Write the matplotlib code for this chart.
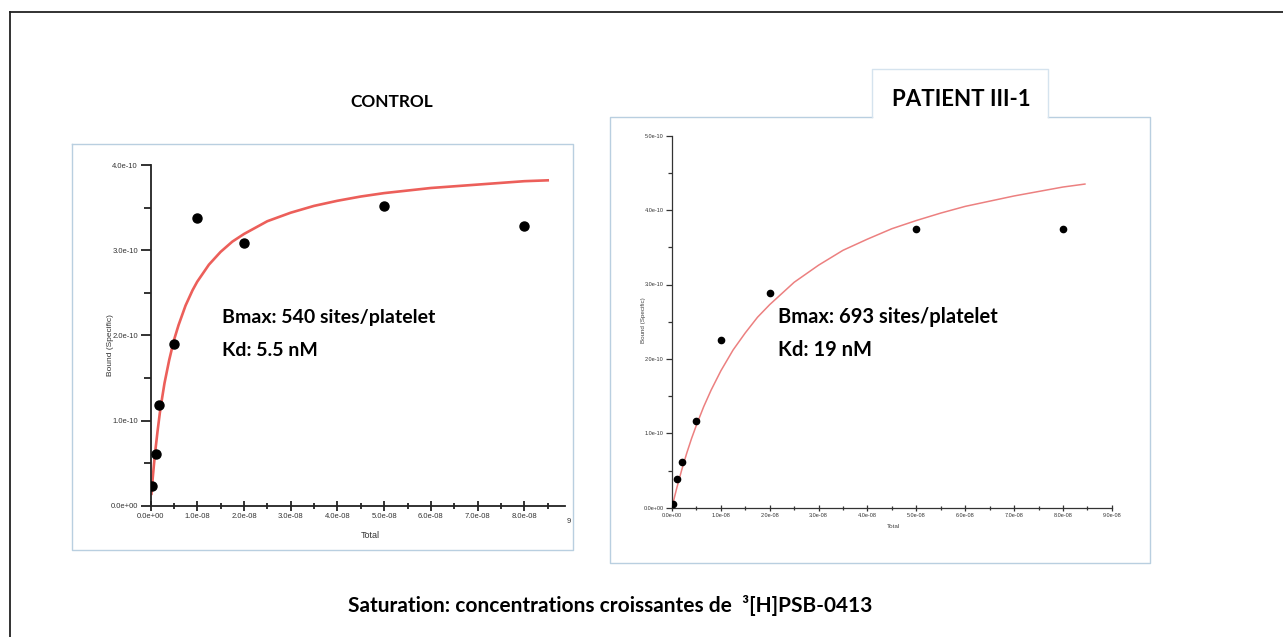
import matplotlib.pyplot as plt
import matplotlib.ticker as mticker
from matplotlib.lines import Line2D

W, H = 1283, 637

# CONTROL panel: Total in units of 1e-08, Bound in units of 1e-10
ctrl_total = [0.03, 0.12, 0.19, 0.5, 1.0, 2.0, 5.0, 8.0]
ctrl_bound = [0.23, 0.61, 1.18, 1.90, 3.38, 3.09, 3.52, 3.28]
# fitted curve
ctrl_fit_x = [0.02, 0.03, 0.05, 0.075, 0.1, 0.15, 0.2, 0.25, 0.3, 0.4, 0.5, 0.6, 0.75, 0.9,
              1.0, 1.25, 1.5, 1.75, 2.0, 2.5, 3.0, 3.5, 4.0, 4.5, 5.0, 6.0, 7.0, 8.0, 8.5]
ctrl_fit_y = [0.14, 0.21, 0.34, 0.49, 0.63, 0.87, 1.09, 1.27, 1.44, 1.71, 1.94, 2.12, 2.35, 2.53,
              2.63, 2.83, 2.98, 3.10, 3.19, 3.34, 3.44, 3.52, 3.58, 3.63, 3.67, 3.73, 3.77, 3.81, 3.82]

# PATIENT III-1 panel
pat_total = [0.03, 0.10, 0.20, 0.49, 1.0, 2.0, 5.0, 8.0]
pat_bound = [0.05, 0.38, 0.61, 1.17, 2.25, 2.88, 3.74, 3.74]
pat_fit_x = [0.0, 0.05, 0.1, 0.2, 0.3, 0.4, 0.5, 0.65, 0.8, 1.0, 1.25, 1.5, 1.75, 2.0, 2.5,
             3.0, 3.5, 4.0, 4.5, 5.0, 5.5, 6.0, 6.5, 7.0, 7.5, 8.0, 8.45]
pat_fit_y = [0.0, 0.14, 0.27, 0.51, 0.73, 0.93, 1.11, 1.36, 1.58, 1.84, 2.12, 2.35, 2.56, 2.73, 3.03,
             3.26, 3.46, 3.61, 3.75, 3.86, 3.96, 4.05, 4.12, 4.19, 4.25, 4.31, 4.35]

ctrl_xticklabels = ['0.0e+00', '1.0e-08', '2.0e-08', '3.0e-08', '4.0e-08',
                    '5.0e-08', '6.0e-08', '7.0e-08', '8.0e-08']
ctrl_yticklabels = ['0.0e+00', '1.0e-10', '2.0e-10', '3.0e-10', '4.0e-10']
pat_xticklabels = ['0.0e+00', '1.0e-08', '2.0e-08', '3.0e-08', '4.0e-08',
                   '5.0e-08', '6.0e-08', '7.0e-08', '8.0e-08', '9.0e-08']
pat_yticklabels = ['0.0e+00', '1.0e-10', '2.0e-10', '3.0e-10', '4.0e-10', '5.0e-10']

plt.rcParams['font.family'] = ['Lato', 'DejaVu Sans']


def fx(x):
    return x / W


def fy(y):
    return 1 - y / H


def fig_line(fig, xs, ys, **kw):
    fig.add_artist(Line2D([fx(v) for v in xs], [fy(v) for v in ys],
                          transform=fig.transFigure, **kw))


def style_axes(ax, lw, tick_fs, color, major_len, minor_len):
    for s in ['top', 'right']:
        ax.spines[s].set_visible(False)
    for s in ['left', 'bottom']:
        ax.spines[s].set_linewidth(lw)
        ax.spines[s].set_color(color)
    ax.xaxis.set_minor_locator(mticker.MultipleLocator(0.5))
    ax.yaxis.set_minor_locator(mticker.MultipleLocator(0.5))
    ax.tick_params(axis='x', which='both', direction='inout', color=color, width=lw)
    ax.tick_params(axis='y', which='both', direction='out', color=color, width=lw)
    ax.tick_params(which='major', length=major_len, labelsize=tick_fs, pad=2)
    ax.tick_params(which='minor', length=minor_len)
    ax.patch.set_alpha(0)
    for lab in ax.get_xticklabels() + ax.get_yticklabels():
        lab.set_family('Liberation Sans')
        lab.set_color('#333333')


fig = plt.figure(figsize=(W / 100, H / 100), dpi=100)

# slide frame
fig_line(fig, [10, W], [12, 12], color='#222222', lw=1.3)
fig_line(fig, [10, 10], [12, H], color='#222222', lw=1.3)

# panel boxes
box_c = '#b9cfe0'
fig_line(fig, [72, 573, 573, 72, 72], [144, 144, 550, 550, 144], color=box_c, lw=1)
fig_line(fig, [1048, 1150, 1150, 610, 610, 872],
         [117, 117, 563, 563, 117, 117], color=box_c, lw=1)
fig_line(fig, [872, 872, 1048, 1048], [117, 69, 69, 117], color='#d5e3ee', lw=1)

# ---- CONTROL ----
ax1 = fig.add_axes([fx(150.5), fy(505.7), (565 - 150.5) / W, (505.7 - 165) / H])
ax1.plot(ctrl_fit_x, ctrl_fit_y, color='#ec5f5a', lw=1.9, zorder=2)
ax1.plot(ctrl_total, ctrl_bound, 'o', color='black', ms=6.5, zorder=3)
ax1.set_xlim(0, 8.87)
ax1.set_ylim(0, 4.0)
ax1.set_xticks(range(len(ctrl_xticklabels)))
ax1.set_xticklabels(ctrl_xticklabels)
ax1.set_yticks(range(len(ctrl_yticklabels)))
ax1.set_yticklabels(ctrl_yticklabels)
style_axes(ax1, 1.3, 5.5, '#222222', 7, 5)
ax1.text(1.004, -0.035, '9', transform=ax1.transAxes, fontsize=5.5,
         family='Liberation Sans', color='#333333', va='top', ha='left', clip_on=False)

fig.text(fx(110), fy(345), 'Bound (Specific)', rotation=90, fontsize=6,
         family='Liberation Sans', color='#333333', ha='center', va='center')
fig.text(fx(370), fy(535), 'Total', fontsize=6.5, family='Liberation Sans',
         color='#333333', ha='center', va='center')
fig.text(fx(392), fy(102), 'CONTROL', fontsize=12.4, fontweight='bold', ha='center', va='center')
fig.text(fx(222), fy(318), 'Bmax: 540 sites/platelet', fontsize=14, fontweight='bold',
         ha='left', va='center')
fig.text(fx(222), fy(351), 'Kd: 5.5 nM', fontsize=14, fontweight='bold',
         ha='left', va='center')

# ---- PATIENT III-1 ----
ax2 = fig.add_axes([fx(672), fy(507.7), 439.8 / W, 372 / H])
ax2.plot(pat_fit_x, pat_fit_y, color='#ec8080', lw=1.1, zorder=2)
ax2.plot(pat_total, pat_bound, 'o', color='black', ms=4.5, zorder=3)
ax2.set_xlim(0, 9)
ax2.set_ylim(0, 5)
ax2.set_xticks(range(len(pat_xticklabels)))
ax2.set_xticklabels(pat_xticklabels)
ax2.set_yticks(range(len(pat_yticklabels)))
ax2.set_yticklabels(pat_yticklabels)
style_axes(ax2, 0.9, 4, '#333333', 4, 3)

fig.text(fx(644), fy(320), 'Bound (Specific)', rotation=90, fontsize=4.5,
         family='Liberation Sans', color='#444444', ha='center', va='center')
fig.text(fx(893), fy(527), 'Total', fontsize=4.5, family='Liberation Sans',
         color='#444444', ha='center', va='center')
fig.text(fx(961), fy(100), 'PATIENT III-1', fontsize=16, fontweight='bold', ha='center', va='center')
fig.text(fx(778), fy(317), 'Bmax: 693 sites/platelet', fontsize=14.5, fontweight='bold',
         ha='left', va='center')
fig.text(fx(778), fy(350), 'Kd: 19 nM', fontsize=14.5, fontweight='bold',
         ha='left', va='center')

# caption
fig.text(fx(348), fy(605), 'Saturation: concentrations croissantes de  \u00b3[H]PSB-0413',
         fontsize=15, fontweight='bold', ha='left', va='center')

fig.savefig('out.png', dpi=100)
